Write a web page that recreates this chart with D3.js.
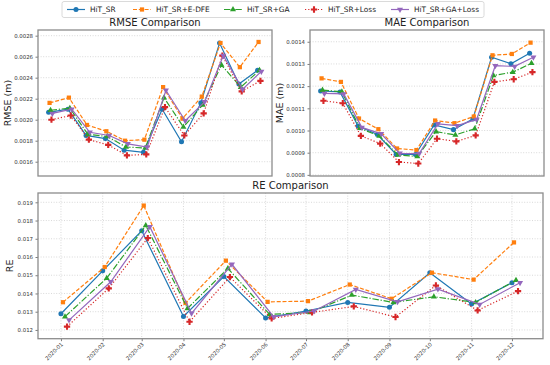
<!DOCTYPE html>
<html>
<head>
<meta charset="utf-8">
<script src="https://cdn.jsdelivr.net/npm/d3@7"></script>
<style>
  body { margin: 0; background: #fff; }
  text { font-family: "DejaVu Sans", sans-serif; }
</style>
</head>
<body>
<svg id="chart" width="550" height="365"></svg>
<script>
const months = ["2020-01","2020-02","2020-03","2020-04","2020-05","2020-06","2020-07","2020-08","2020-09","2020-10","2020-11","2020-12"];
const seriesNames = ["HiT_SR", "HiT_SR+E-DFE", "HiT_SR+GA", "HiT_SR+Loss", "HiT_SR+GA+Loss"];

const rmse = [
  [0.00207, 0.00210, 0.00185, 0.00182, 0.00171, 0.00169, 0.00210, 0.00179, 0.00216, 0.00273, 0.00234, 0.00247],
  [0.00216, 0.00221, 0.00195, 0.00189, 0.00180, 0.00181, 0.00231, 0.00201, 0.00222, 0.00273, 0.00250, 0.00274],
  [0.00209, 0.00211, 0.00186, 0.00184, 0.00174, 0.00173, 0.00221, 0.00193, 0.00214, 0.00252, 0.00231, 0.00247],
  [0.00200, 0.00204, 0.00181, 0.00176, 0.00166, 0.00167, 0.00212, 0.00185, 0.00206, 0.00261, 0.00227, 0.00237],
  [0.00206, 0.00210, 0.00188, 0.00185, 0.00177, 0.00174, 0.00228, 0.00199, 0.00217, 0.00261, 0.00229, 0.00246]
];
const mae = [
  [0.001178, 0.001174, 0.001020, 0.000982, 0.000892, 0.000892, 0.001025, 0.001004, 0.001052, 0.001330, 0.001301, 0.001348],
  [0.001235, 0.001219, 0.001054, 0.001006, 0.000919, 0.000912, 0.001045, 0.001033, 0.001063, 0.001339, 0.001345, 0.001396],
  [0.001182, 0.001175, 0.001010, 0.000975, 0.000890, 0.000883, 0.000995, 0.000980, 0.001008, 0.001248, 0.001263, 0.001303],
  [0.001134, 0.001123, 0.000976, 0.000941, 0.000858, 0.000851, 0.000963, 0.000951, 0.000978, 0.001219, 0.001231, 0.001263],
  [0.001167, 0.001165, 0.001014, 0.000985, 0.000897, 0.000896, 0.001030, 0.001022, 0.001050, 0.001292, 0.001289, 0.001330]
];
const re = [
  [0.01289, 0.01524, 0.01744, 0.01274, 0.01493, 0.01266, 0.01304, 0.01351, 0.01324, 0.01514, 0.01342, 0.01459],
  [0.01352, 0.01545, 0.01882, 0.01348, 0.01580, 0.01354, 0.01358, 0.01449, 0.01371, 0.01514, 0.01476, 0.01680],
  [0.01273, 0.01484, 0.01773, 0.01318, 0.01537, 0.01285, 0.01296, 0.01391, 0.01351, 0.01382, 0.01351, 0.01473],
  [0.01218, 0.01428, 0.01704, 0.01245, 0.01490, 0.01263, 0.01296, 0.01329, 0.01271, 0.01444, 0.01307, 0.01413],
  [0.01254, 0.01464, 0.01766, 0.01291, 0.01560, 0.01272, 0.01304, 0.01422, 0.01354, 0.01424, 0.01340, 0.01459]
];
const rmseTicks = [0.0016, 0.0018, 0.0020, 0.0022, 0.0024, 0.0026, 0.0028];
const maeTicks = [0.0008, 0.0009, 0.0010, 0.0011, 0.0012, 0.0013, 0.0014];
const reTicks = [0.012, 0.013, 0.014, 0.015, 0.016, 0.017, 0.018, 0.019];

const colors = ["#1f77b4", "#ff7f0e", "#2ca02c", "#d62728", "#9467bd"];
const dashes = [null, "4,1.8", "6.5,1.8,1.2,1.8", "1.2,2", null];
const symbols = [d3.symbolCircle, d3.symbolSquare, d3.symbolTriangle, d3.symbolCross, d3.symbolTriangle];
const symbolSizes = [20, 18, 16, 22, 16];
const symbolRotate = [0, 0, 0, 0, 180];
const dayShift = 1.5; // each series is nudged a bit to the right

const svg = d3.select("#chart");
const parse = d3.timeParse("%Y-%m");
const dates = months.map(parse);

const first = dates[0];
const last = d3.timeDay.offset(dates[dates.length - 1], dayShift * 4);
const pad = (last - first) * 0.05;
const xDomain = [new Date(+first - pad), new Date(+last + pad)];

function drawPanel(opts) {
  const { left, right, top, bottom, yDomain, ticks, data, title, ylabel, showX, tickFmt } = opts;
  const x = d3.scaleTime().domain(xDomain).range([left, right]);
  const y = d3.scaleLinear().domain(yDomain).range([bottom, top]);
  const g = svg.append("g");

  // grid
  g.append("g").selectAll("line").data(ticks).join("line")
    .attr("x1", left).attr("x2", right)
    .attr("y1", d => y(d)).attr("y2", d => y(d))
    .attr("stroke", "#c8c8c8").attr("stroke-width", 0.7)
    .attr("stroke-dasharray", "1,1.6");
  if (showX) {
    g.append("g").selectAll("line").data(dates).join("line")
      .attr("x1", d => x(d)).attr("x2", d => x(d))
      .attr("y1", top).attr("y2", bottom)
      .attr("stroke", "#c8c8c8").attr("stroke-width", 0.7)
      .attr("stroke-dasharray", "1,1.6");
  }

  // y axis
  const yAxis = g.append("g")
    .attr("transform", `translate(${left},0)`)
    .call(d3.axisLeft(y).tickValues(ticks).tickFormat(tickFmt).tickSize(2.5).tickPadding(2.5));
  yAxis.select(".domain").remove();
  yAxis.selectAll("line").attr("stroke", "#444").attr("stroke-width", 0.7);
  yAxis.selectAll("text").attr("font-size", "5.4px").attr("fill", "#333");

  if (showX) {
    const xAxis = g.append("g")
      .attr("transform", `translate(0,${bottom})`)
      .call(d3.axisBottom(x).tickValues(dates).tickFormat(d3.timeFormat("%Y-%m")).tickSize(2.5));
    xAxis.select(".domain").remove();
    xAxis.selectAll("line").attr("stroke", "#444").attr("stroke-width", 0.7);
    xAxis.selectAll("text")
      .attr("font-size", "5.4px").attr("fill", "#333")
      .attr("text-anchor", "end")
      .attr("dy", null).attr("y", 0)
      .attr("transform", "translate(2,6) rotate(-45)");
  }

  // series
  data.forEach((vals, i) => {
    const pts = vals.map((v, k) => [x(d3.timeHour.offset(dates[k], dayShift * 24 * i)), y(v)]);
    g.append("path")
      .attr("d", d3.line()(pts))
      .attr("fill", "none")
      .attr("stroke", colors[i])
      .attr("stroke-width", 1.2)
      .attr("stroke-dasharray", dashes[i]);
    g.append("g").selectAll("path").data(pts).join("path")
      .attr("d", d3.symbol(symbols[i], symbolSizes[i]))
      .attr("transform", d => `translate(${d[0]},${d[1]}) rotate(${symbolRotate[i]})`)
      .attr("fill", colors[i]);
  });

  // frame
  g.append("rect")
    .attr("x", left).attr("y", top)
    .attr("width", right - left).attr("height", bottom - top)
    .attr("fill", "none").attr("stroke", "#8c8c8c").attr("stroke-width", 1.3);

  svg.append("text")
    .attr("x", (left + right) / 2).attr("y", top - 4)
    .attr("text-anchor", "middle").attr("font-size", "10px").attr("fill", "#222")
    .text(title);
  svg.append("text")
    .attr("transform", `translate(${opts.ylabelX},${(top + bottom) / 2}) rotate(-90)`)
    .attr("text-anchor", "middle").attr("font-size", "9.5px").attr("fill", "#222")
    .text(ylabel);
}

drawPanel({
  left: 38, right: 272, top: 30, bottom: 176,
  yDomain: [0.001464, 0.002854], ticks: rmseTicks, data: rmse,
  title: "RMSE Comparison", ylabel: "RMSE (m)", ylabelX: 11, showX: false,
  tickFmt: d3.format(".4f")
});
drawPanel({
  left: 310, right: 544, top: 30, bottom: 176,
  yDomain: [0.000795, 0.001453], ticks: maeTicks, data: mae,
  title: "MAE Comparison", ylabelX: 283, ylabel: "MAE (m)", showX: false,
  tickFmt: d3.format(".4f")
});
drawPanel({
  left: 38, right: 543, top: 193, bottom: 338.7,
  yDomain: [0.01152, 0.01951], ticks: reTicks, data: re,
  title: "RE Comparison", ylabelX: 13, ylabel: "RE", showX: true,
  tickFmt: d3.format(".3f")
});

// legend
const legend = svg.append("g");
legend.append("rect")
  .attr("x", 62).attr("y", 1.5).attr("width", 422).attr("height", 16)
  .attr("rx", 2).attr("fill", "#fff").attr("stroke", "#d0d0d0").attr("stroke-width", 0.8);
const legendX = [67, 133, 224, 305, 391];
seriesNames.forEach((name, i) => {
  const lx = legendX[i], ly = 9.5;
  legend.append("line")
    .attr("x1", lx).attr("x2", lx + 18).attr("y1", ly).attr("y2", ly)
    .attr("stroke", colors[i]).attr("stroke-width", 1.2)
    .attr("stroke-dasharray", dashes[i]);
  legend.append("path")
    .attr("d", d3.symbol(symbols[i], symbolSizes[i]))
    .attr("transform", `translate(${lx + 9},${ly}) rotate(${symbolRotate[i]})`)
    .attr("fill", colors[i]);
  legend.append("text")
    .attr("x", lx + 23).attr("y", ly + 2.6)
    .attr("font-size", "7.4px").attr("fill", "#222")
    .text(name);
});
</script>
</body>
</html>
